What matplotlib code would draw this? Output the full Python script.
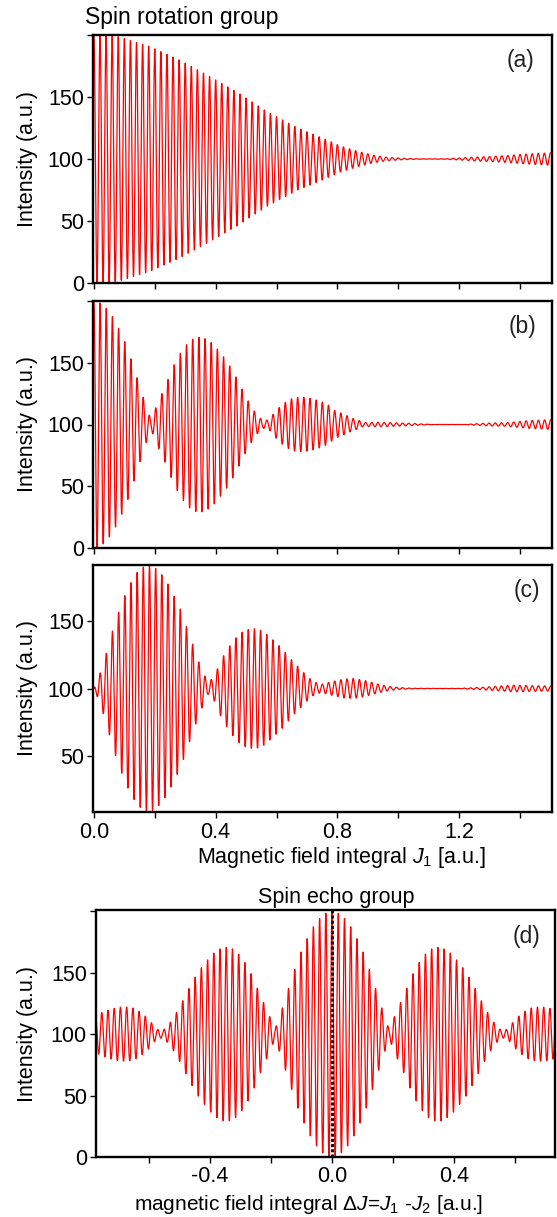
import numpy as np
import matplotlib
matplotlib.use("Agg")
import matplotlib.pyplot as plt

plt.rcParams['font.family'] = ['Liberation Sans', 'DejaVu Sans']
plt.rcParams['mathtext.fontset'] = 'custom'
plt.rcParams['mathtext.rm'] = 'Liberation Sans'
plt.rcParams['mathtext.it'] = 'Liberation Sans:italic'

# ---------------- data ----------------
# carrier frequencies of the Larmor precession (cycles per unit J)
freq_a = 50.0
freq_b = 49.3
freq_c = 49.3
freq_d = 49.0

# (a) envelope (amplitude around the mean of 100)
env_a_J = [0.00, 0.08, 0.18, 0.28, 0.37, 0.47, 0.57, 0.67, 0.75, 0.81, 0.87,
           0.92, 0.96, 1.00, 1.05, 1.10, 1.15, 1.20, 1.25, 1.34, 1.42, 1.50]
env_a_amp = [100, 98.6, 91, 80, 68, 54, 38, 25, 17, 10.5, 6,
             3, 1.5, 0.8, 0.3, 0.1, 0.2, 0.8, 1.5, 2.5, 4, 5]

# (b) envelope
env_b_J = [0.000, 0.025, 0.045, 0.065, 0.085, 0.107, 0.126, 0.147, 0.166, 0.187,
           0.214, 0.238, 0.257, 0.277, 0.297, 0.316, 0.336, 0.356, 0.375, 0.395,
           0.416, 0.435, 0.457, 0.476, 0.496, 0.516, 0.535, 0.555, 0.575, 0.591,
           0.611, 0.632, 0.652, 0.672, 0.692, 0.711, 0.731, 0.751, 0.770, 0.790,
           0.810, 0.830, 0.852, 0.870, 0.885, 0.930, 0.980, 1.050, 1.110, 1.220,
           1.280, 1.357, 1.420, 1.500]
env_b_amp = [100, 98, 93, 86, 76, 64, 50, 34, 19, 4,
             20, 33, 45, 55, 62.5, 68, 70.6, 70.6, 68.5, 64.4,
             58, 52, 43, 34, 24, 15, 8, 3, 4, 9,
             14.4, 18.5, 21.2, 22, 22, 21.2, 19.8, 18, 15.8, 11.5,
             9.5, 7.3, 4.8, 3.5, 1.5, 1.8, 1.5, 0.8, 0.1, 0.1,
             1, 1.5, 3, 4]

# (c) envelope
env_c_J = [0.000, 0.023, 0.043, 0.063, 0.084, 0.104, 0.124, 0.143, 0.163, 0.184,
           0.204, 0.225, 0.246, 0.265, 0.285, 0.305, 0.326, 0.345, 0.375, 0.397,
           0.416, 0.436, 0.457, 0.476, 0.496, 0.516, 0.535, 0.555, 0.576, 0.596,
           0.616, 0.637, 0.656, 0.678, 0.698, 0.719, 0.745, 0.780, 0.820, 0.853,
           0.890, 0.930, 0.970, 1.000, 1.050, 1.200, 1.280, 1.380, 1.500]
env_c_amp = [0, 13, 28, 44.5, 58.7, 70.7, 79.9, 86.8, 90.5, 92,
             89.3, 84.3, 76.9, 68, 58.7, 45.7, 32, 19.6, 4, 9.7,
             20.4, 28.4, 35.3, 40.3, 43.3, 44.5, 44.5, 42.8, 38.8, 34.6,
             30.4, 24.6, 19.6, 14.7, 9.7, 5.5, 3, 5, 7, 7.5,
             6, 3.5, 1.5, 0.8, 0.2, 0.1, 1, 2.5, 1.8]

# (d) spin echo group: symmetric in dJ, same envelope as (b) in |dJ|
env_d_J = env_b_J
env_d_amp = env_b_amp

mean_intensity = 100.0

yticks_ab = [0, 50, 100, 150, 200]
yticklabels_ab = ['0', '50', '100', '150', '']
yticks_c = [50, 100, 150]
xticks_abc = [0.0, 0.2, 0.4, 0.6, 0.8, 1.0, 1.2, 1.4]
xticklabels_c = ['0.0', '', '0.4', '', '0.8', '', '1.2', '']
xticks_d = [-0.6, -0.4, -0.2, 0.0, 0.2, 0.4, 0.6]
xticklabels_d = ['', '-0.4', '', '0.0', '', '0.4', '']

# ---------------- figure ----------------
W, H = 557, 1217
fig = plt.figure(figsize=(W / 100, H / 100), dpi=100)


def rect(l, t, r, b):
    return [l / W, 1 - b / H, (r - l) / W, (b - t) / H]


def fx(x):
    return x / W


def fy(y):
    return 1 - y / H


FS = 15.5
RED = '#ff0000'

ax_a = fig.add_axes(rect(93, 35, 552, 283))
ax_b = fig.add_axes(rect(93, 301, 552, 548))
ax_c = fig.add_axes(rect(93, 565, 552, 812))
ax_d = fig.add_axes(rect(96, 910, 555, 1157))

J = np.linspace(0, 1.5, 9001)
sig_a = mean_intensity + np.interp(J, env_a_J, env_a_amp) * np.cos(2 * np.pi * freq_a * J)
sig_b = mean_intensity + np.interp(J, env_b_J, env_b_amp) * np.cos(2 * np.pi * freq_b * J)
sig_c = mean_intensity + np.interp(J, env_c_J, env_c_amp) * np.cos(2 * np.pi * freq_c * J)
dJ = np.linspace(-0.78, 0.74, 9001)
sig_d = mean_intensity + np.interp(np.abs(dJ), env_d_J, env_d_amp) * np.cos(2 * np.pi * freq_d * dJ)

for ax, x, y in [(ax_a, J, sig_a), (ax_b, J, sig_b), (ax_c, J, sig_c), (ax_d, dJ, sig_d)]:
    ax.plot(x, y, color=RED, lw=0.9)
    for s in ax.spines.values():
        s.set_linewidth(1.7)
    ax.tick_params(direction='out', length=4.5, width=1.0, labelsize=FS, pad=2)

for ax in (ax_a, ax_b, ax_c):
    ax.set_xlim(-0.003, 1.505)
    ax.set_xticks(xticks_abc)

ax_a.set_xticklabels([])
ax_b.set_xticklabels([])
ax_c.set_xticklabels(xticklabels_c)
ax_c.tick_params(axis='x', pad=3)

for ax in (ax_a, ax_b):
    ax.set_ylim(0, 200)
    ax.set_yticks(yticks_ab)
    ax.set_yticklabels(yticklabels_ab)

ax_c.set_ylim(8, 192)
ax_c.set_yticks(yticks_c)
ax_c.set_yticklabels([str(v) for v in yticks_c])

ax_d.set_xlim(-0.774, 0.731)
ax_d.set_ylim(0, 201)
ax_d.set_yticks(yticks_ab)
ax_d.set_yticklabels(yticklabels_ab)
ax_d.set_xticks(xticks_d)
ax_d.set_xticklabels(xticklabels_d)
ax_d.tick_params(axis='x', pad=2)
ax_d.axvline(0.0, color='#111111', lw=2.2, ls=(0, (1.0, 0.7)), zorder=3)

# panel letters
for ax, lab, (px, py) in [(ax_a, '(a)', (521, 61)), (ax_b, '(b)', (522, 327)),
                          (ax_c, '(c)', (527, 591)), (ax_d, '(d)', (526, 937))]:
    fig.text(fx(px), fy(py), lab, fontsize=FS + 1, ha='center', va='center', color='#222222')

# y labels
for top, bot in [(35, 283), (301, 548), (565, 812), (910, 1157)]:
    fig.text(fx(28), fy((top + bot) / 2), 'Intensity (a.u.)', rotation=90,
             fontsize=FS, ha='center', va='center')

fig.text(fx(85), fy(24), 'Spin rotation group', fontsize=FS + 1, ha='left', va='baseline')
fig.text(fx(336), fy(903), 'Spin echo group', fontsize=FS, ha='center', va='baseline')
fig.text(fx(342), fy(857), r'Magnetic field integral $J_{1}$ [a.u.]', fontsize=FS,
         ha='center', va='center')
fig.text(fx(309), fy(1205), r'magnetic field integral Δ$J$=$J_{1}$ -$J_{2}$ [a.u.]',
         fontsize=FS - 0.5, ha='center', va='center')

fig.savefig('out.png', dpi=100)
